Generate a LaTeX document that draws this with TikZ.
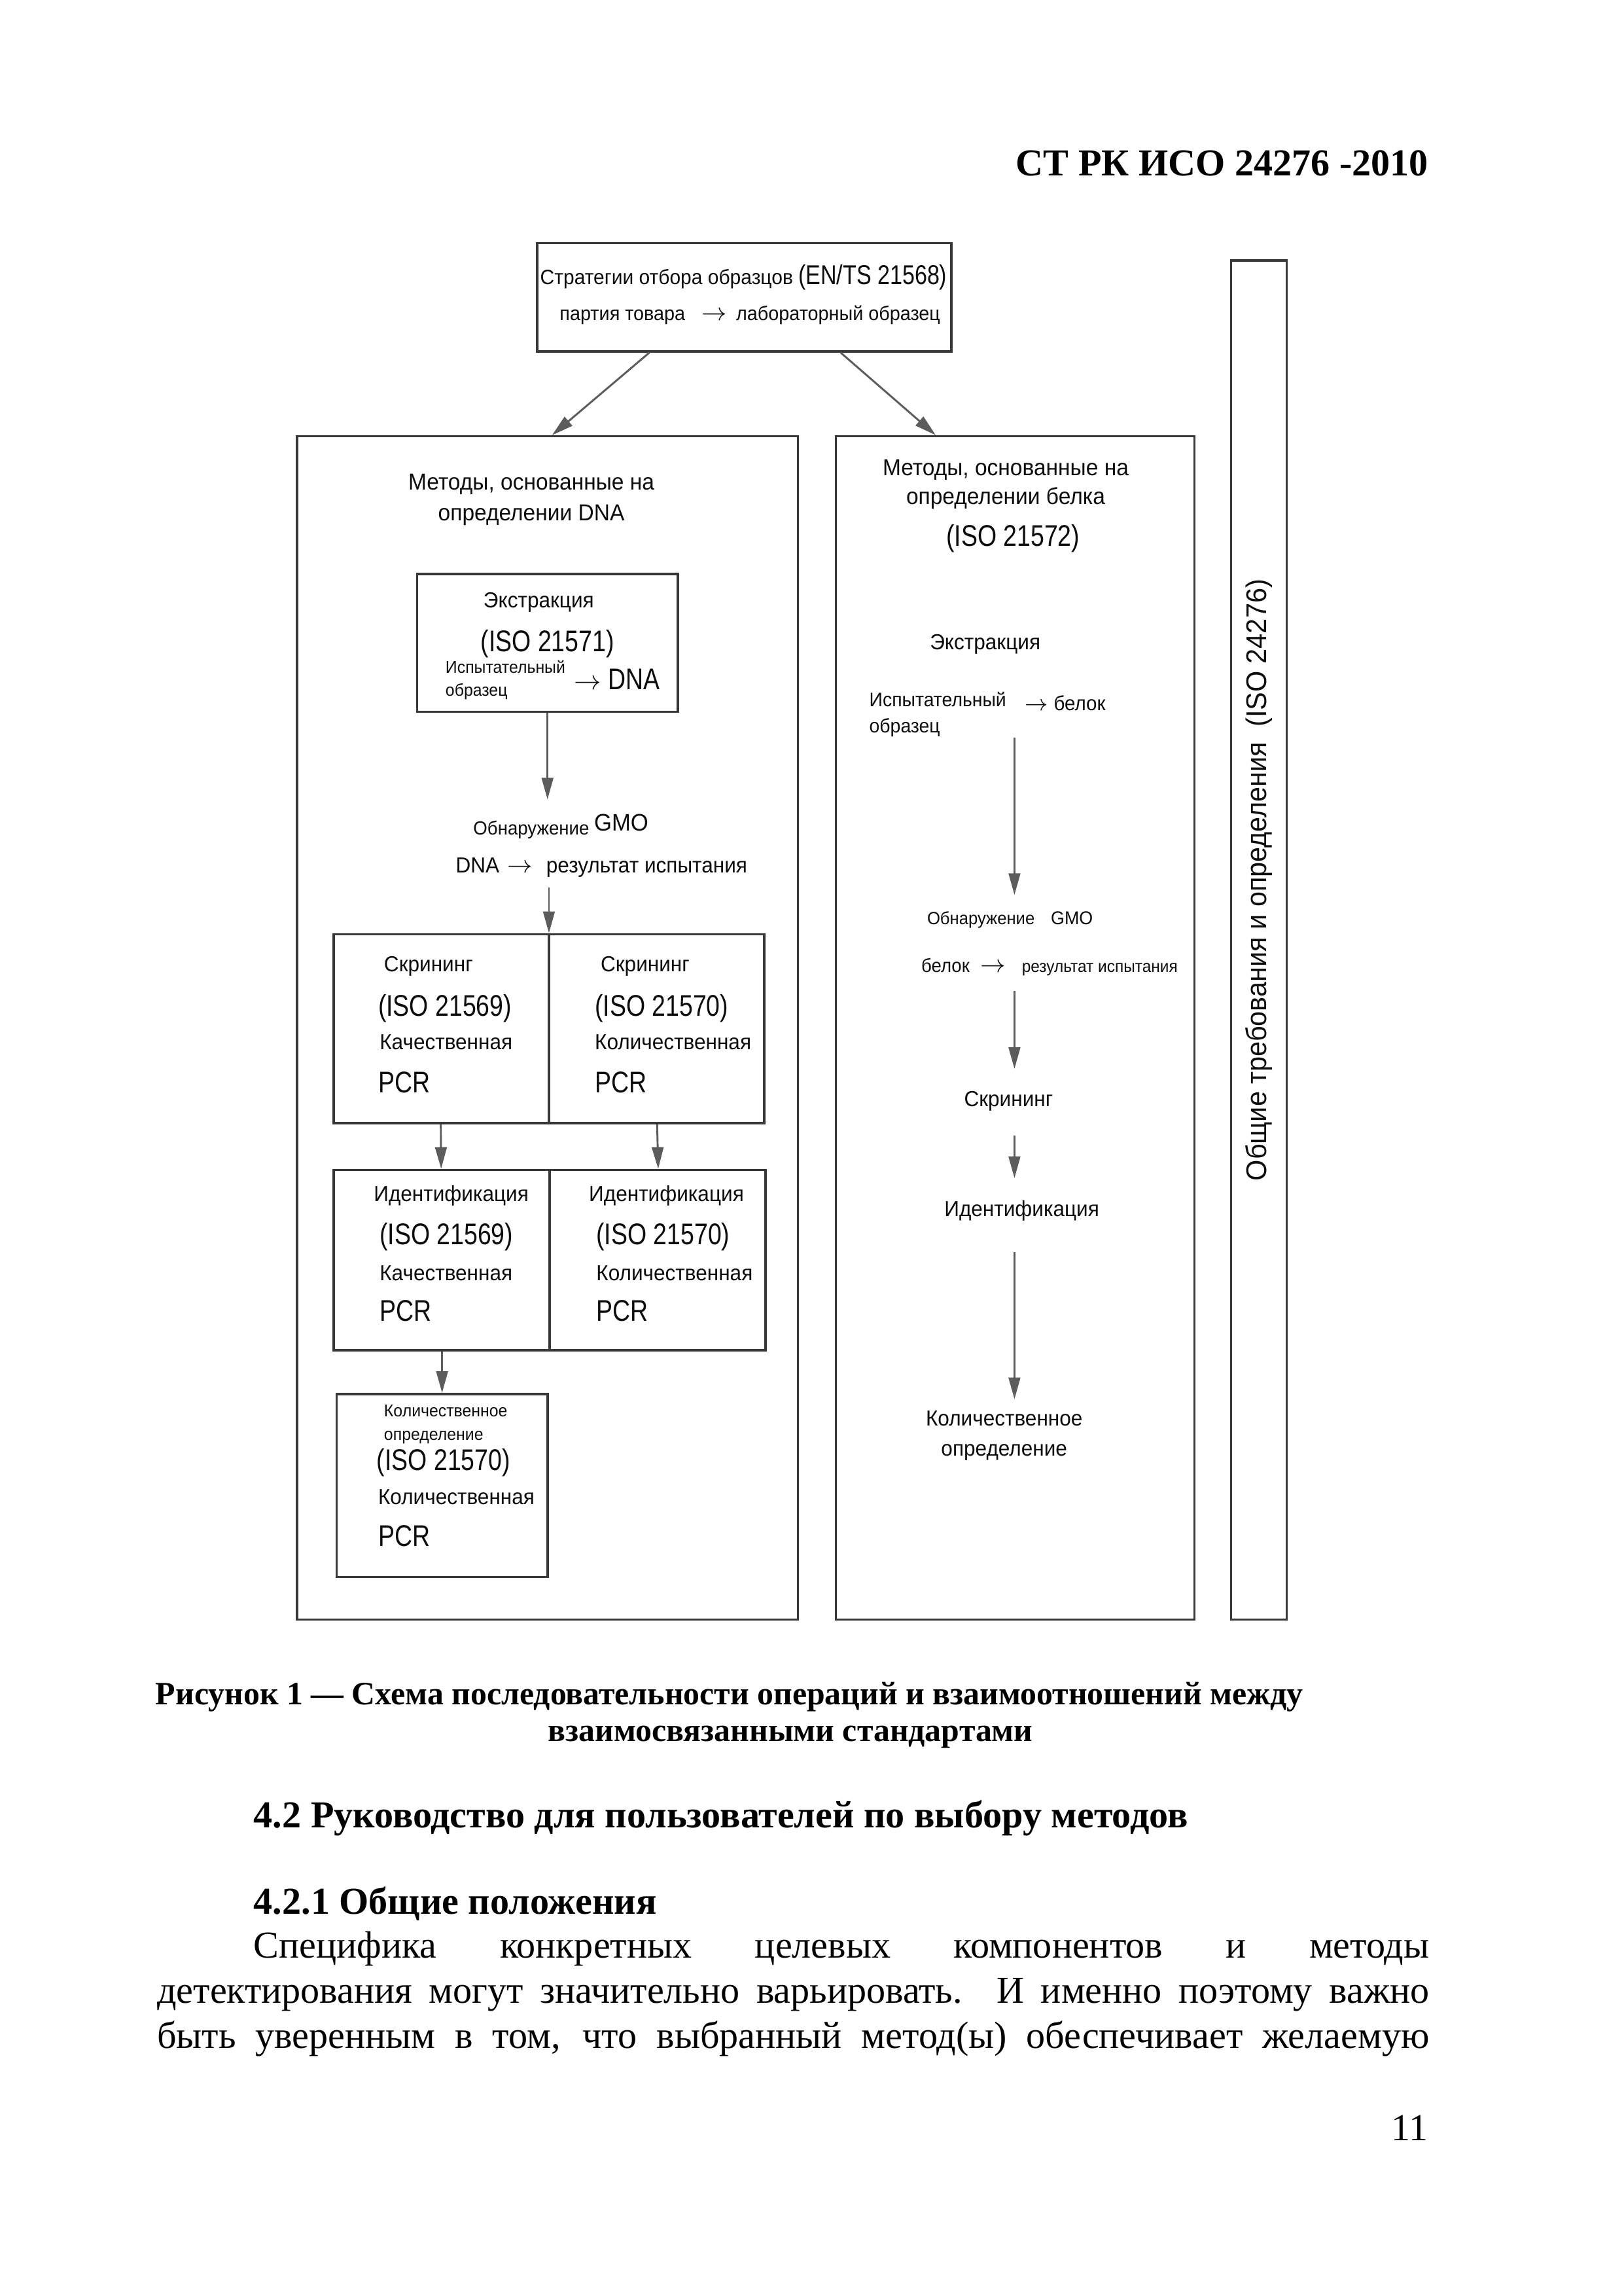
\documentclass[tikz,border=0pt]{standalone}
\usepackage{fontspec}
\setmainfont{Liberation Serif}
\newfontfamily\dgfont[FakeStretch=0.95]{Liberation Sans}
\newfontfamily\dgbigfont[FakeStretch=0.82]{Liberation Sans}
\usetikzlibrary{arrows.meta,calc,fit}
\newcommand\dgm{\dgfont\fontsize{8}{10}\selectfont}
\newcommand\dgB{\dgbigfont\fontsize{11}{13}\selectfont}
\newcommand\dgs{\dgfont\fontsize{6.3}{8.6}\selectfont}
\newcommand\dgsz[2]{\dgfont\fontsize{#1}{#2}\selectfont}
\newcommand\tarr[1]{{\fontsize{#1}{#1}\selectfont\(\rightarrow\)}}
\definecolor{linec}{gray}{0.22}
\definecolor{arrc}{gray}{0.36}
\definecolor{txtc}{gray}{0.05}
\begin{document}
\begin{tikzpicture}[x=0.018936cm,y=-0.018936cm,
  boxl/.style={draw=linec, line width=0.85pt, inner sep=0pt},
  divl/.style={draw=linec, line width=0.85pt},
  arr/.style={draw=arrc, line width=0.7pt, -{Triangle[length=0.28cm,width=0.15cm]}},
  every node/.style={inner sep=0pt, text=txtc},
  tm/.style={font=\dgm},
  tb/.style={font=\dgB},
  ser/.style={font=\fontsize{14}{17}\selectfont, text=black},
  serb/.style={font=\bfseries\fontsize{14}{17}\selectfont, text=black},
  capf/.style={font=\bfseries\fontsize{12}{14}\selectfont, text=black}
]
\path[use as bounding box, fill=white] (0,0) rectangle (1109,1568);

% header
\node[serb, anchor=base east] (hdr) at (976,120) {СТ РК ИСО 24276 -2010};

% top box
\node[boxl, fit={(367,166) (650,240)}] (top) {};
\node[font=\dgsz{7.6}{10}, anchor=base] (topa) at (508,194) {Стратегии отбора образцов {\dgbigfont\fontsize{10}{12}\selectfont (EN/TS 21568)}};
\node[font=\dgsz{7.3}{9}, anchor=base west] (topb) at (382,219) {партия товара\hspace{6pt}\tarr{9}\hspace{3.5pt}лабораторный образец};

% general vertical box
\node[boxl, fit={(841,178) (879,1106)}] (gen) {};
\node[font=\dgsz{10.5}{12}, rotate=90] (genT) at (860,601) {Общие требования и определения \ (ISO 24276)};

% big boxes
\node[boxl, fit={(203,298) (545,1106)}] (dnaB) {};
\node[boxl, fit={(571,298) (816,1106)}] (prB) {};
\draw[arr] ($(top.south west)!0.272!(top.south east)$) -- ($(dnaB.north west)!0.509!(dnaB.north east)$);
\draw[arr] ($(top.south west)!0.731!(top.south east)$) -- ($(prB.north west)!0.28!(prB.north east)$);

% ---- DNA column
\node[font=\dgsz{8.5}{11.3}, align=center, anchor=base] (dnaT) at (363,355.5) {Методы, основанные на\\определении DNA};
\node[boxl, fit={(285,392) (463,486)}] (ext) {};
\node[tm, anchor=base] (extT) at (368,415) {Экстракция};
\node[tb, anchor=base] (extI) at (374,445) {(ISO 21571)};
\node[font=\dgs, align=left, anchor=base west] (extS) at (304,475.5) {Испытательный\\образец};
\node[tm, anchor=base west] (extD) at (392,471) {\tarr{10}\hspace{2.5pt}{\dgB DNA}};

\node[font=\dgsz{7}{8}, anchor=base west] (detL) at (323,570) {Обнаружение\ \raisebox{1.5pt}{\dgsz{8.8}{9}GMO}};
\node[tm, anchor=base west] (resL) at (311,596) {DNA\hspace{3pt}\tarr{9}\hspace{5pt}результат испытания};
\draw[arr, shorten >=0.18cm] (ext.south) -- (ext.south |- detL.north);

\node[boxl, fit={(228,638) (522,767)}] (scr) {};
\draw[divl] (scr.north) -- (scr.south);
\draw[arr, shorten <=0.125cm] (resL.south -| scr.north) -- (scr.north);
\node[tm, anchor=base west] (s1a) at (262,663.5) {Скрининг};
\node[tb, anchor=base west] (s1b) at (258,694) {(ISO 21569)};
\node[tm, anchor=base west] (s1c) at (259,716.5) {Качественная};
\node[tb, anchor=base west] (s1d) at (258,746) {PCR};
\node[tm, anchor=base west] (s2a) at (410,663.5) {Скрининг};
\node[tb, anchor=base west] (s2b) at (406,694) {(ISO 21570)};
\node[tm, anchor=base west] (s2c) at (406,716.5) {Количественная};
\node[tb, anchor=base west] (s2d) at (406,746) {PCR};

\node[boxl, fit={(228,799) (523,922)}] (idf) {};
\draw[divl] (idf.north) -- (idf.south);
\draw[arr] ($(scr.south west)!0.25!(scr.south east)$) -- ($(idf.north west)!0.25!(idf.north east)$);
\draw[arr] ($(scr.south west)!0.75!(scr.south east)$) -- ($(idf.north west)!0.75!(idf.north east)$);
\node[tm, anchor=base west] (i1a) at (255,820.5) {Идентификация};
\node[tb, anchor=base west] (i1b) at (259,850) {(ISO 21569)};
\node[tm, anchor=base west] (i1c) at (259,874.5) {Качественная};
\node[tb, anchor=base west] (i1d) at (259,902) {PCR};
\node[tm, anchor=base west] (i2a) at (402,820.5) {Идентификация};
\node[tb, anchor=base west] (i2b) at (407,850) {(ISO 21570)};
\node[tm, anchor=base west] (i2c) at (407,874.5) {Количественная};
\node[tb, anchor=base west] (i2d) at (407,902) {PCR};

\node[boxl, fit={(230,952) (374,1077)}] (qnt) {};
\draw[arr] (idf.south -| qnt.north) -- (qnt.north);
\node[font=\dgs, align=left, anchor=base west] (q1a) at (262,983.5) {Количественное\\определение};
\node[tb, anchor=base west] (q1b) at (257,1004) {(ISO 21570)};
\node[tm, anchor=base west] (q1c) at (258,1027.5) {Количественная};
\node[tb, anchor=base west] (q1d) at (258,1056) {PCR};

% ---- protein column
\coordinate (rx) at (693,0);
\node[font=\dgsz{8.5}{10.7}, align=center, anchor=base] (prT) at (687,344.5) {Методы, основанные на\\определении белка};
\node[tb, anchor=base] (prI) at (692,373) {(ISO 21572)};
\node[tm, anchor=base] (exR) at (673,443.5) {Экстракция};
\node[font=\dgsz{7.2}{9.7}, align=left, anchor=base west] (smR) at (593.5,500.5) {Испытательный\\образец};
\node[font=\dgsz{7.5}{9}, anchor=base west] (blR) at (700,485) {\tarr{8.5}\hspace{2pt}белок};
\node[font=\dgsz{6.5}{8}, anchor=base west] (detR) at (633,631.5) {Обнаружение\hspace{6pt}{\dgsz{6.8}{8}GMO}};
\node[font=\dgsz{7}{8}, anchor=base west] (resR) at (629,664) {белок\hspace{4pt}\tarr{9}\hspace{6pt}{\dgsz{6.2}{7}результат испытания}};
\node[tm, anchor=base] (scrR) at (689,755.5) {Скрининг};
\node[tm, anchor=base] (idR) at (698,830.5) {Идентификация};
\node[font=\dgsz{8}{11.3}, align=center, anchor=base] (qR) at (686,994.5) {Количественное\\определение};
\draw[arr, shorten >=0.21cm] (smR.south -| rx) -- (detR.north -| rx);
\draw[arr, shorten <=0.19cm, shorten >=0.28cm] (resR.south -| rx) -- (scrR.north -| rx);
\draw[arr, shorten <=0.31cm, shorten >=0.28cm] (scrR.south -| rx) -- (idR.north -| rx);
\draw[arr, shorten <=0.40cm, shorten >=0.14cm] (idR.south -| rx) -- (qR.north -| rx);

% caption and text
\node[capf, anchor=base west] (cap1) at (106,1164) {Рисунок 1 — Схема последовательности операций и взаимоотношений между};
\node[capf, anchor=base] (cap2) at (540,1189) {взаимосвязанными стандартами};
\node[serb, anchor=base west] (h42) at (173,1248) {4.2 Руководство для пользователей по выбору методов};
\node[serb, anchor=base west] (h421) at (173,1307) {4.2.1 Общие положения};
\node[ser, anchor=base west] (b1) at (173,1337) {\hbox to 15.206cm{Специфика конкретных целевых компонентов и методы}};
\node[ser, anchor=base west] (b2) at (107,1368) {\hbox to 16.455cm{детектирования могут значительно варьировать. И именно поэтому важно}};
\node[ser, anchor=base west] (b3) at (107,1399) {\hbox to 16.455cm{быть уверенным в том, что выбранный метод(ы) обеспечивает желаемую}};
\node[ser, anchor=base east] (pg) at (976,1462) {11};
\end{tikzpicture}
\end{document}
